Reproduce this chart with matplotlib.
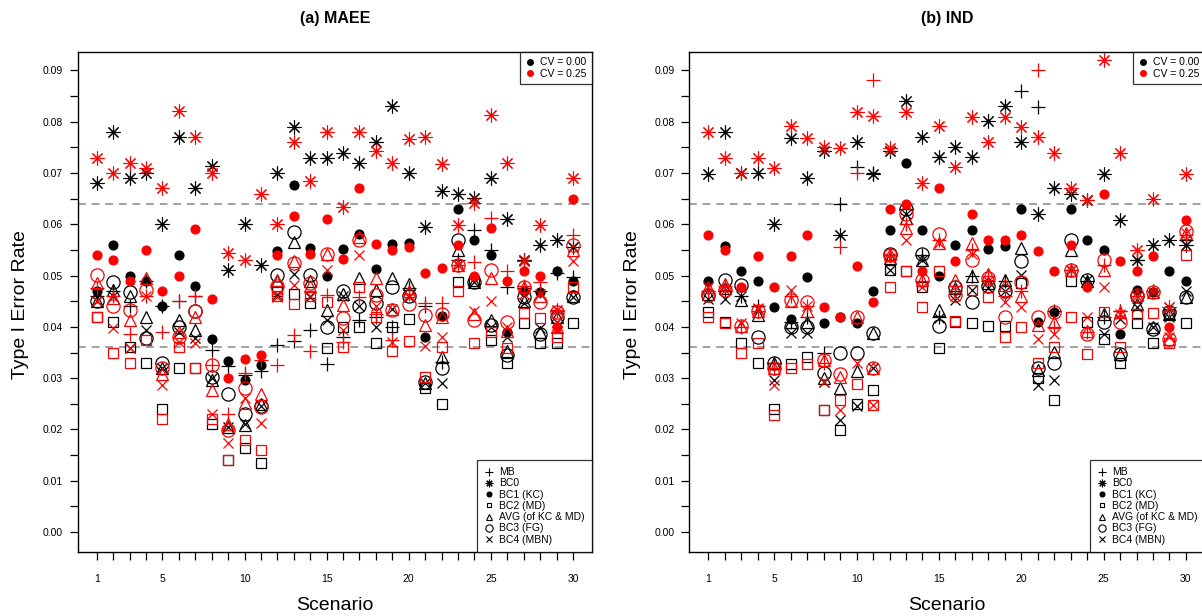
import matplotlib
matplotlib.use("Agg")
import matplotlib.pyplot as plt
from matplotlib.lines import Line2D

plt.rcParams['font.family'] = ['Liberation Sans', 'DejaVu Sans']

scenarios = list(range(1, 31))
method_names = ["MB", "BC0", "BC1 (KC)", "BC2 (MD)", "AVG (of KC & MD)", "BC3 (FG)", "BC4 (MBN)"]
cv_labels = ["CV = 0.00", "CV = 0.25"]

# (a) MAEE, CV = 0.00
maee_mb_0 = [0.046, 0.047, 0.044, 0.049, 0.044, 0.045, 0.046, 0.0355, 0.0324, 0.0307,
             0.0313, 0.0365, 0.0373, 0.0393, 0.0328, 0.0381, 0.0414, 0.042, 0.0399, 0.0475,
             0.044, 0.0332, 0.053, 0.0589, 0.055, 0.0478, 0.0475, 0.047, 0.0505, 0.0497]
maee_bc0_0 = [0.068, 0.078, 0.069, 0.070, 0.060, 0.077, 0.067, 0.0714, 0.051, 0.060,
              0.052, 0.070, 0.079, 0.073, 0.073, 0.074, 0.072, 0.076, 0.083, 0.070,
              0.0595, 0.0665, 0.066, 0.0651, 0.069, 0.061, 0.053, 0.056, 0.057, 0.0556]
maee_bc1_0 = [0.047, 0.056, 0.050, 0.049, 0.044, 0.054, 0.048, 0.0376, 0.0334, 0.0296,
              0.0326, 0.0548, 0.0677, 0.0553, 0.0499, 0.0551, 0.0582, 0.0512, 0.0561, 0.0563,
              0.0381, 0.0421, 0.063, 0.057, 0.054, 0.039, 0.047, 0.0468, 0.0508, 0.049]
maee_bc2_0 = [0.042, 0.041, 0.036, 0.033, 0.024, 0.032, 0.032, 0.021, 0.014, 0.0164,
              0.0134, 0.047, 0.0464, 0.0446, 0.0358, 0.0399, 0.0399, 0.0369, 0.040, 0.0415,
              0.028, 0.025, 0.0488, 0.049, 0.0375, 0.033, 0.0408, 0.0368, 0.0368, 0.0408]
maee_avg_0 = [0.045, 0.0472, 0.046, 0.042, 0.0319, 0.0413, 0.0394, 0.0297, 0.0205, 0.0208,
              0.025, 0.049, 0.0566, 0.049, 0.0433, 0.0465, 0.0495, 0.0472, 0.0495, 0.0484,
              0.029, 0.0342, 0.055, 0.0488, 0.0413, 0.0352, 0.045, 0.039, 0.042, 0.046]
maee_bc3_0 = [0.045, 0.0488, 0.0468, 0.0378, 0.0329, 0.040, 0.043, 0.0303, 0.027, 0.0231,
              0.0245, 0.0501, 0.0585, 0.0501, 0.0399, 0.047, 0.0441, 0.0446, 0.0478, 0.046,
              0.0292, 0.0319, 0.057, 0.0488, 0.0404, 0.0345, 0.0459, 0.0387, 0.042, 0.0459]
maee_bc4_0 = [0.045, 0.046, 0.0359, 0.0394, 0.032, 0.039, 0.0378, 0.030, 0.0205, 0.021,
              0.0245, 0.0463, 0.0504, 0.0459, 0.0414, 0.046, 0.0441, 0.0399, 0.0435, 0.0459,
              0.029, 0.029, 0.052, 0.0488, 0.0399, 0.038, 0.0446, 0.0397, 0.041, 0.0459]

# (a) MAEE, CV = 0.25
maee_mb_25 = [0.0475, 0.046, 0.0387, 0.046, 0.039, 0.045, 0.046, 0.0326, 0.0231, 0.031,
              0.0335, 0.0325, 0.0384, 0.0352, 0.0462, 0.037, 0.0459, 0.0426, 0.0375, 0.0465,
              0.0446, 0.0446, 0.052, 0.0527, 0.0612, 0.0508, 0.048, 0.0488, 0.043, 0.0579]
maee_bc0_25 = [0.073, 0.070, 0.072, 0.071, 0.067, 0.082, 0.077, 0.070, 0.0545, 0.053,
               0.066, 0.060, 0.076, 0.0685, 0.078, 0.0633, 0.078, 0.0743, 0.072, 0.0767,
               0.0771, 0.0717, 0.0598, 0.0641, 0.0813, 0.072, 0.0529, 0.0598, 0.0432, 0.069]
maee_bc1_25 = [0.054, 0.053, 0.049, 0.055, 0.047, 0.050, 0.059, 0.0454, 0.030, 0.0337,
               0.0345, 0.054, 0.0616, 0.0543, 0.0611, 0.0532, 0.0671, 0.0561, 0.055, 0.0556,
               0.0506, 0.0514, 0.056, 0.0499, 0.0592, 0.0489, 0.0509, 0.0499, 0.0399, 0.065]
maee_bc2_25 = [0.042, 0.035, 0.033, 0.0375, 0.022, 0.036, 0.032, 0.022, 0.014, 0.018,
               0.016, 0.046, 0.0444, 0.046, 0.0449, 0.0361, 0.0478, 0.042, 0.0352, 0.0373,
               0.0303, 0.0361, 0.0469, 0.0368, 0.039, 0.0358, 0.0428, 0.0418, 0.038, 0.0478]
maee_avg_25 = [0.0485, 0.0456, 0.0413, 0.0495, 0.0309, 0.039, 0.042, 0.0277, 0.021, 0.0251,
               0.027, 0.0491, 0.0529, 0.048, 0.0543, 0.0443, 0.0575, 0.0495, 0.0435, 0.047,
               0.0404, 0.042, 0.052, 0.0426, 0.0495, 0.0391, 0.0478, 0.046, 0.0399, 0.055]
maee_bc3_25 = [0.0501, 0.044, 0.0433, 0.0472, 0.032, 0.038, 0.043, 0.0326, 0.0199, 0.028,
               0.0244, 0.048, 0.0525, 0.0485, 0.0543, 0.0418, 0.0569, 0.0462, 0.0433, 0.0444,
               0.0423, 0.0425, 0.052, 0.0413, 0.0511, 0.041, 0.0478, 0.0449, 0.0429, 0.056]
maee_bc4_25 = [0.045, 0.0397, 0.0359, 0.046, 0.0287, 0.037, 0.0368, 0.0231, 0.0173, 0.0261,
               0.0212, 0.0458, 0.0482, 0.046, 0.0511, 0.0394, 0.054, 0.044, 0.037, 0.046,
               0.0363, 0.0381, 0.052, 0.043, 0.0451, 0.040, 0.0465, 0.0465, 0.041, 0.0529]

# (b) IND, CV = 0.00
ind_mb_0 = [0.047, 0.047, 0.046, 0.044, 0.033, 0.041, 0.042, 0.035, 0.0639, 0.0711,
            0.070, 0.054, 0.063, 0.054, 0.042, 0.047, 0.050, 0.049, 0.049, 0.086,
            0.0829, 0.043, 0.051, 0.049, 0.042, 0.043, 0.053, 0.047, 0.043, 0.057]
ind_bc0_0 = [0.0698, 0.078, 0.070, 0.070, 0.060, 0.0769, 0.0691, 0.0742, 0.058, 0.0761,
             0.0698, 0.0742, 0.0841, 0.077, 0.0731, 0.0751, 0.0731, 0.0802, 0.083, 0.076,
             0.0621, 0.067, 0.066, 0.0648, 0.0699, 0.0609, 0.053, 0.0559, 0.0569, 0.0559]
ind_bc1_0 = [0.049, 0.0558, 0.0509, 0.049, 0.0438, 0.0415, 0.0498, 0.0408, 0.042, 0.0408,
             0.047, 0.0589, 0.072, 0.0589, 0.0499, 0.056, 0.0589, 0.0551, 0.0558, 0.0629,
             0.041, 0.0429, 0.0629, 0.0569, 0.055, 0.0387, 0.0472, 0.0468, 0.0509, 0.049]
ind_bc2_0 = [0.0429, 0.041, 0.0368, 0.0329, 0.0239, 0.0328, 0.0342, 0.0238, 0.0199, 0.025,
             0.0277, 0.051, 0.0508, 0.0478, 0.0358, 0.041, 0.0408, 0.0401, 0.0401, 0.0485,
             0.030, 0.0257, 0.049, 0.041, 0.0377, 0.0329, 0.0408, 0.0368, 0.0425, 0.0408]
ind_avg_0 = [0.0465, 0.0475, 0.0452, 0.0423, 0.0329, 0.041, 0.041, 0.030, 0.028, 0.0313,
             0.0389, 0.0535, 0.0612, 0.053, 0.0433, 0.0475, 0.0499, 0.0485, 0.0492, 0.0553,
             0.0315, 0.0351, 0.055, 0.049, 0.0426, 0.0348, 0.0445, 0.040, 0.0425, 0.0459]
ind_bc3_0 = [0.0462, 0.0491, 0.0482, 0.038, 0.0329, 0.040, 0.040, 0.031, 0.0349, 0.0349,
             0.0389, 0.0543, 0.0629, 0.0542, 0.0401, 0.0477, 0.0449, 0.048, 0.047, 0.0529,
             0.0319, 0.0329, 0.0569, 0.0492, 0.041, 0.0348, 0.046, 0.0395, 0.0429, 0.0459]
ind_bc4_0 = [0.0455, 0.0455, 0.046, 0.0435, 0.0297, 0.0389, 0.0389, 0.0293, 0.0218, 0.0245,
             0.032, 0.0511, 0.062, 0.053, 0.0417, 0.0453, 0.0471, 0.0475, 0.047, 0.0501,
             0.0287, 0.0296, 0.051, 0.0492, 0.0387, 0.0415, 0.0439, 0.0399, 0.042, 0.047]

# (b) IND, CV = 0.25
ind_mb_25 = [0.047, 0.048, 0.040, 0.043, 0.032, 0.046, 0.044, 0.033, 0.0556, 0.0701,
             0.0881, 0.054, 0.060, 0.049, 0.057, 0.048, 0.055, 0.050, 0.046, 0.047,
             0.0901, 0.040, 0.051, 0.039, 0.052, 0.043, 0.046, 0.047, 0.043, 0.058]
ind_bc0_25 = [0.078, 0.073, 0.070, 0.073, 0.071, 0.0792, 0.0769, 0.075, 0.0749, 0.0819,
              0.0811, 0.0748, 0.0819, 0.068, 0.0792, 0.0711, 0.081, 0.076, 0.081, 0.079,
              0.0771, 0.0739, 0.067, 0.0648, 0.092, 0.0739, 0.055, 0.065, 0.0439, 0.0699]
ind_bc1_25 = [0.0579, 0.0549, 0.0478, 0.0538, 0.0478, 0.0539, 0.0579, 0.0438, 0.0419, 0.0519,
              0.0449, 0.0629, 0.064, 0.0508, 0.067, 0.0529, 0.062, 0.0569, 0.0569, 0.0579,
              0.0548, 0.0509, 0.0559, 0.0478, 0.066, 0.0529, 0.0509, 0.0538, 0.0399, 0.0609]
ind_bc2_25 = [0.042, 0.0408, 0.0349, 0.0368, 0.0228, 0.0319, 0.0328, 0.0238, 0.0257, 0.0288,
              0.0248, 0.0478, 0.0508, 0.0438, 0.0508, 0.0411, 0.0471, 0.0459, 0.038, 0.0399,
              0.0329, 0.0361, 0.0419, 0.0348, 0.0429, 0.0361, 0.0426, 0.0428, 0.0368, 0.054]
ind_avg_25 = [0.0478, 0.0484, 0.0401, 0.043, 0.0319, 0.045, 0.043, 0.0336, 0.0303, 0.042,
              0.032, 0.0542, 0.0592, 0.0492, 0.0563, 0.0492, 0.0563, 0.0504, 0.0482, 0.046,
              0.0403, 0.041, 0.0511, 0.0392, 0.0511, 0.0429, 0.0462, 0.0468, 0.0377, 0.0583]
ind_bc3_25 = [0.0462, 0.0472, 0.0401, 0.043, 0.0319, 0.0453, 0.0449, 0.0336, 0.0309, 0.042,
              0.0319, 0.054, 0.062, 0.0492, 0.0582, 0.0462, 0.053, 0.0495, 0.042, 0.0488,
              0.042, 0.0429, 0.0511, 0.0387, 0.053, 0.041, 0.0462, 0.0468, 0.0377, 0.0587]
ind_bc4_25 = [0.0478, 0.0472, 0.0408, 0.0437, 0.0287, 0.0472, 0.044, 0.0293, 0.0238, 0.0329,
              0.0248, 0.0535, 0.0569, 0.0478, 0.0563, 0.046, 0.0543, 0.049, 0.0449, 0.0439,
              0.0377, 0.0387, 0.0511, 0.042, 0.0478, 0.0425, 0.046, 0.0468, 0.038, 0.0583]

panels = [
    ("(a) MAEE",
     [maee_mb_0, maee_bc0_0, maee_bc1_0, maee_bc2_0, maee_avg_0, maee_bc3_0, maee_bc4_0],
     [maee_mb_25, maee_bc0_25, maee_bc1_25, maee_bc2_25, maee_avg_25, maee_bc3_25, maee_bc4_25]),
    ("(b) IND",
     [ind_mb_0, ind_bc0_0, ind_bc1_0, ind_bc2_0, ind_avg_0, ind_bc3_0, ind_bc4_0],
     [ind_mb_25, ind_bc0_25, ind_bc1_25, ind_bc2_25, ind_avg_25, ind_bc3_25, ind_bc4_25]),
]

# marker styles mimicking R pch 3, 8, 16, 0, 2, 1, 4
styles = [
    dict(marker='+', ms=10, mew=0.9, filled=False),
    dict(marker=(8, 2, 0), ms=10, mew=0.8, filled=False),
    dict(marker='o', ms=6.5, mew=0.8, filled=True),
    dict(marker='s', ms=6.5, mew=0.9, filled=False),
    dict(marker='^', ms=8.5, mew=0.9, filled=False),
    dict(marker='o', ms=9.5, mew=0.9, filled=False),
    dict(marker='x', ms=7.5, mew=0.9, filled=False),
]
colors = ["black", "#ff0000"]

W, H = 1202, 616
fig = plt.figure(figsize=(W / 100, H / 100), dpi=100)
axes_px = [(77.7, 592.0), (689.3, 1205.0)]
bottom_px, top_px = 552.0, 52.0

for (title, black_vals, red_vals), (x0, x1) in zip(panels, axes_px):
    ax = fig.add_axes([x0 / W, 1 - bottom_px / H, (x1 - x0) / W, (bottom_px - top_px) / H])
    ax.set_xlim(-0.16, 31.16)
    ax.set_ylim(-0.0039, 0.0936)

    ax.axhline(0.036, color="#a0a0a0", lw=1.4, ls=(0, (4, 3)), zorder=1)
    ax.axhline(0.064, color="#a0a0a0", lw=1.4, ls=(0, (4, 3)), zorder=1)

    for vals_set, col in zip([black_vals, red_vals], colors):
        for vals, st in zip(vals_set, styles):
            ax.plot(scenarios, vals, ls='none', marker=st['marker'], ms=st['ms'],
                    mew=st['mew'], mec=col,
                    mfc=col if st['filled'] else 'none', zorder=3)

    ax.set_xticks(scenarios)
    ax.set_xticklabels([str(s) if (s == 1 or s % 5 == 0) else '' for s in scenarios])
    yt = [i / 200 for i in range(0, 19)]
    ax.set_yticks(yt)
    ax.set_yticklabels(["%.2f" % v if i % 2 == 0 else '' for i, v in enumerate(yt)])
    ax.tick_params(axis='x', direction='out', length=5.5, width=0.9, pad=10, labelsize=7.5)
    ax.tick_params(axis='y', direction='out', length=5.5, width=0.9, pad=5, labelsize=7.5)
    for sp in ax.spines.values():
        sp.set_linewidth(1.0)

    # legend for CV
    cv_handles = [Line2D([], [], ls='none', marker='o', ms=4, color=c) for c in colors]
    leg1 = ax.legend(cv_handles, cv_labels, loc='upper right', fontsize=7.5,
                     frameon=True, fancybox=False, edgecolor='black', borderaxespad=0,
                     handlelength=1.0, handletextpad=0.5, labelspacing=0.15,
                     borderpad=0.5)
    leg1.get_frame().set_linewidth(0.9)
    ax.add_artist(leg1)

    # legend for methods
    m_handles = [Line2D([], [], ls='none', marker=st['marker'], ms=st['ms'] * 0.55,
                        mew=0.8, mec='black',
                        mfc='black' if st['filled'] else 'none') for st in styles]
    leg2 = ax.legend(m_handles, method_names, loc='lower right', fontsize=7.5,
                     frameon=True, fancybox=False, edgecolor='black', borderaxespad=0,
                     handlelength=0.9, handletextpad=0.5, labelspacing=0.12,
                     borderpad=0.7)
    leg2.get_frame().set_linewidth(0.9)

    cx = (x0 + x1) / 2 / W
    fig.text(cx, 1 - 18 / H, title, ha='center', va='center', fontsize=11.5, fontweight='bold')
    fig.text(cx, 1 - 605 / H, "Scenario", ha='center', va='center', fontsize=14)
    fig.text((x0 - 57) / W, 1 - 305 / H, "Type I Error Rate", ha='center', va='center',
             rotation=90, fontsize=14)

fig.savefig("out.png", dpi=100)
